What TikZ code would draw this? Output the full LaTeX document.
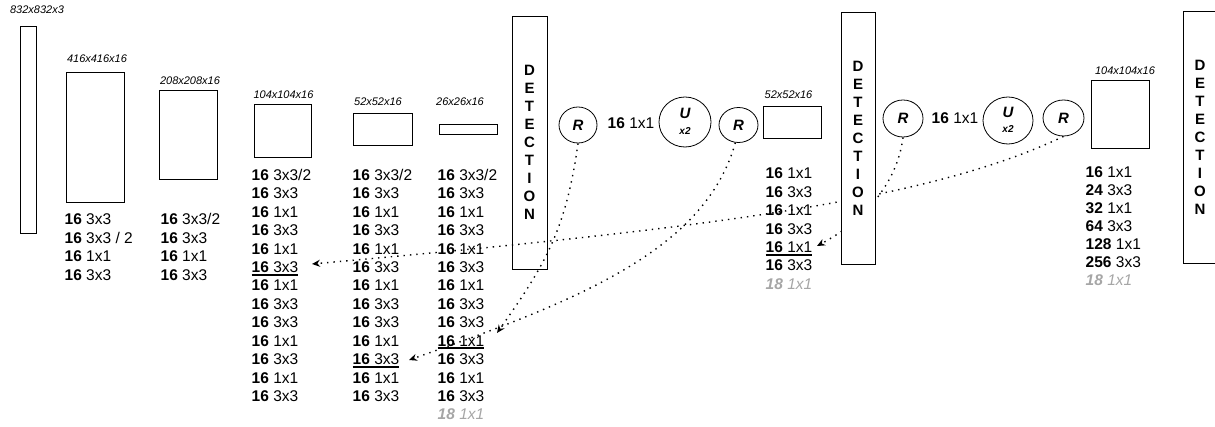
\documentclass[tikz,border=0pt]{standalone}
\usepackage{fontspec}
\setmainfont{Liberation Sans}
\usetikzlibrary{shapes.geometric,arrows.meta}
\definecolor{lightgr}{HTML}{A6A6A6}
\newcommand{\greyrow}{\textcolor{lightgr}{\textbf{\textit{18}} \textit{1x1}}}
\begin{document}
\begin{tikzpicture}[x=1pt,y=-1pt,
  box/.style={draw=black,line width=0.8pt,fill=white,inner sep=0pt},
  dims/.style={font=\fontsize{11}{13}\selectfont\itshape,inner sep=0pt},
  row/.style={font=\fontsize{15.5}{18}\selectfont,inner sep=0pt,anchor=base west},
  det/.style={draw=black,line width=0.8pt,fill=white,align=center,inner sep=0pt,
    font=\fontsize{15}{18}\selectfont\bfseries},
  circ/.style={ellipse,draw=black,line width=0.8pt,fill=white,inner sep=0pt,
    font=\fontsize{15}{17}\selectfont\bfseries\itshape},
  ulab/.style={inner sep=0pt,font=\fontsize{15}{17}\selectfont\bfseries\itshape},
  xlab/.style={inner sep=0pt,font=\fontsize{10}{11}\selectfont\bfseries\itshape},
  conn/.style={line width=1.4pt,dash pattern=on 1.4pt off 5pt,-{Stealth[length=8pt,width=7pt]}},
  ul/.style={line width=2pt}]
\useasboundingbox (0,0) rectangle (1215,427);
\clip (0,0) rectangle (1215,427);

% feature map boxes
\node[box,minimum width=16,minimum height=207] (inbox) at (28,129.5) {};
\node[box,minimum width=58,minimum height=130] (b416) at (95,137) {};
\node[box,minimum width=58,minimum height=89] (b208) at (188,134.5) {};
\node[box,minimum width=57,minimum height=53] (b104) at (282.5,130.5) {};
\node[box,minimum width=59,minimum height=32] (b52) at (382.5,129) {};
\node[box,minimum width=58,minimum height=10] (b26) at (468,129) {};
\node[box,minimum width=58,minimum height=32] (b52b) at (792,122) {};
\node[box,minimum width=58,minimum height=68] (b104b) at (1120,114) {};

% dimension labels
\node[dims] (l832) at (37,10) {832x832x3};
\node[dims] (l416) at (97,59) {416x416x16};
\node[dims] (l208) at (190,81) {208x208x16};
\node[dims] (l104) at (283.5,95) {104x104x16};
\node[dims] (l52) at (378,102) {52x52x16};
\node[dims] (l26) at (460,102) {26x26x16};
\node[dims] (l52b) at (788.5,95) {52x52x16};
\node[dims] (l104b) at (1125,71) {104x104x16};

% layer lists
\foreach \t [count=\i] in {3x3,3x3 / 2,1x1,3x3}
  \node[row] (a-\i) at (64.5,{225+18.5*(\i-1)}) {\textbf{16} \t};
\foreach \t [count=\i] in {3x3/2,3x3,1x1,3x3}
  \node[row] (b-\i) at (160.5,{225+18.5*(\i-1)}) {\textbf{16} \t};
\foreach \t [count=\i] in {3x3/2,3x3,1x1,3x3,1x1,3x3,1x1,3x3,3x3,1x1,3x3,1x1,3x3}
  \node[row] (c1-\i) at (251.5,{180.6+18.4*(\i-1)}) {\textbf{16} \t};
\foreach \t [count=\i] in {3x3/2,3x3,1x1,3x3,1x1,3x3,1x1,3x3,3x3,1x1,3x3,1x1,3x3}
  \node[row] (c2-\i) at (352.5,{180.6+18.4*(\i-1)}) {\textbf{16} \t};
\foreach \t [count=\i] in {3x3/2,3x3,1x1,3x3,1x1,3x3,1x1,3x3,3x3,1x1,3x3,1x1,3x3}
  \node[row] (c3-\i) at (437.5,{180.6+18.4*(\i-1)}) {\textbf{16} \t};
\node[row] (c3-14) at (437.5,{180.6+18.4*13}) {\greyrow};
\foreach \t [count=\i] in {1x1,3x3,1x1,3x3,1x1,3x3}
  \node[row] (c4-\i) at (765.5,{179+18.4*(\i-1)}) {\textbf{16} \t};
\node[row] (c4-7) at (765.5,{179+18.4*6}) {\greyrow};
\foreach \n/\t [count=\i] in {16/1x1,24/3x3,32/1x1,64/3x3,128/1x1,256/3x3}
  \node[row] (c5-\i) at (1085.5,{177.3+18*(\i-1)}) {\textbf{\n} \t};
\node[row] (c5-7) at (1085.5,{177.3+18*6}) {\greyrow};

% underlines
\foreach \n in {c1-6,c2-11,c3-10,c4-5}
  \draw[ul] ([yshift=-2pt]\n.base west) -- ([yshift=-2pt]\n.base east);

% first detection box (connectors pass over it)
\node[det,minimum width=35,minimum height=253] (det1) at (529.5,142.5)
  {D\\E\\T\\E\\C\\T\\I\\O\\N};

% route / upsample blocks
\node[circ,minimum width=38,minimum height=36] (r1) at (578,125) {R};
\node[row,anchor=center] (m1) at (631,123.5) {\textbf{16} 1x1};
\node[circ,minimum width=52,minimum height=50] (u1) at (685,122) {};
\node[ulab] (u1t) at ([yshift=8.5pt]u1.center) {U};
\node[xlab] (u1x) at ([yshift=-9pt]u1.center) {x2};
\node[circ,minimum width=39,minimum height=35] (r2) at (738.5,125) {R};

\node[circ,minimum width=40,minimum height=37] (r3) at (903,118.5) {R};
\node[row,anchor=center] (m2) at (955,118) {\textbf{16} 1x1};
\node[circ,minimum width=50,minimum height=47] (u2) at (1008,120.5) {};
\node[ulab] (u2t) at ([yshift=8pt]u2.center) {U};
\node[xlab] (u2x) at ([yshift=-9pt]u2.center) {x2};
\node[circ,minimum width=41,minimum height=36] (r4) at (1063.5,118) {R};

% connector targets
\coordinate (tA) at (497,333);
\coordinate (tB) at (409,360);
\coordinate (tC) at (312,264);
\coordinate (tD) at (817,246);

% connectors
\draw[conn] (r1.south) .. controls (566,230) and (545,265) .. (tA);
\draw[conn] (r2.260) .. controls (705,250) and (580,300) .. (tB);
\draw[conn] (r4.south) .. controls (930,200) and (712,228) .. (tC);
\draw[conn] (r3.south) .. controls (897,185) and (862,222) .. (tD);

% detection boxes drawn over connectors
\node[det,minimum width=34,minimum height=252] (det2) at (858,138)
  {D\\E\\T\\E\\C\\T\\I\\O\\N};
\node[det,minimum width=34,minimum height=252] (det3) at (1200,137)
  {D\\E\\T\\E\\C\\T\\I\\O\\N};
\end{tikzpicture}
\end{document}
